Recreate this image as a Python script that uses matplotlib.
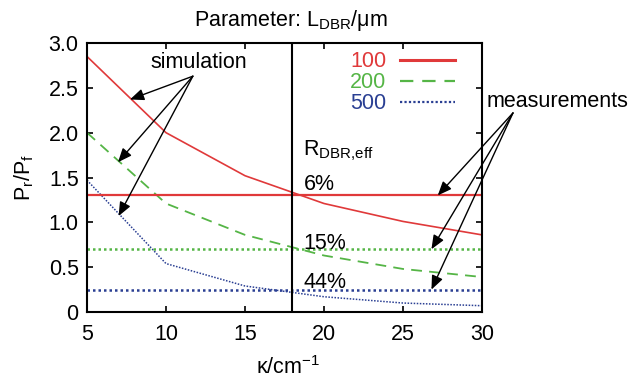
import matplotlib
matplotlib.use("Agg")
import matplotlib.pyplot as plt

plt.rcParams['font.family'] = ['Liberation Sans', 'DejaVu Sans']
plt.rcParams['mathtext.fontset'] = 'custom'
plt.rcParams['mathtext.rm'] = 'Liberation Sans'
plt.rcParams['mathtext.it'] = 'Liberation Sans'

kappa = [5, 10, 15, 20, 25, 30]
sim_100 = [2.85, 2.00, 1.52, 1.21, 1.01, 0.86]
sim_200 = [2.00, 1.21, 0.86, 0.63, 0.48, 0.39]
sim_500 = [1.47, 0.54, 0.29, 0.17, 0.10, 0.07]
meas_levels = [1.30, 0.70, 0.25]
meas_labels = ["6%", "15%", "44%"]
legend_labels = ["100", "200", "500"]
kappa_marker = 18

red = '#e0393a'
green = '#55b546'
blue = '#2a3f93'
FS = 15.5

fig = plt.figure(figsize=(6.29, 3.79), dpi=100)
ax = fig.add_axes([0.1383, 0.1768, 0.628, 0.7097])

l1, = ax.plot(kappa, sim_100, color=red, lw=1.2)
l2, = ax.plot(kappa, sim_200, color=green, lw=1.3, dashes=(6, 4))
l3, = ax.plot(kappa, sim_500, color=blue, lw=1.1, dashes=(1, 1))

ax.axhline(meas_levels[0], color=red, lw=1.6)
ax.axhline(meas_levels[1], color=green, lw=1.8, dashes=(1, 1.2))
ax.axhline(meas_levels[2], color=blue, lw=1.8, dashes=(1, 1.2))
ax.axvline(kappa_marker, color='black', lw=1.5)

ax.set_xlim(5, 30)
ax.set_ylim(0, 3.0)
ax.set_xticks([5, 10, 15, 20, 25, 30])
ax.set_yticks([0, 0.5, 1.0, 1.5, 2.0, 2.5, 3.0])
ax.set_yticklabels(['0', '0.5', '1.0', '1.5', '2.0', '2.5', '3.0'])
ax.tick_params(direction='in', top=True, right=True, labelsize=FS, length=4, width=1.2)
ax.tick_params(axis='x', pad=9)
ax.tick_params(axis='y', pad=6)
for s in ax.spines.values():
    s.set_linewidth(1.5)

ax.set_xlabel(r'$\mathregular{\kappa/cm^{-1}}$', fontsize=FS)
ax.xaxis.set_label_coords(0.51, -0.163)
ax.set_ylabel(r'$\mathregular{P_r/P_f}$', fontsize=FS)
ax.yaxis.set_label_coords(-0.13, 0.5)
fig.text(0.462, 0.945, r'Parameter: $\mathregular{L_{DBR}/\mu m}$', fontsize=FS, ha='center', va='center')

leg = ax.legend([l1, l2, l3], legend_labels, loc='upper right', bbox_to_anchor=(0.937, 0.978),
                frameon=False, fontsize=FS, markerfirst=False, handlelength=2.55,
                labelspacing=0.0, handletextpad=0.65, borderaxespad=0.0, borderpad=0.1)
for t, c in zip(leg.get_texts(), [red, green, blue]):
    t.set_color(c)
for ln, w in zip(leg.get_lines(), [2.2, 1.6, 1.6]):
    ln.set_linewidth(w)

ax.text(18.7, 1.80, r'$\mathregular{R_{DBR{,}eff}}$', fontsize=FS, ha='left', va='center')
baseline_pad = {"6%": 0.06, "15%": 0.005, "44%": 0.02}
for lvl, lab in zip(meas_levels, meas_labels):
    ax.text(18.7, lvl + baseline_pad[lab], lab, fontsize=FS, ha='left', va='baseline')

arrow_kw = dict(arrowstyle='-|>,head_length=0.6,head_width=0.25', color='black', lw=1.0,
                mutation_scale=14, shrinkA=0, shrinkB=0)
ax.text(12.1, 2.78, 'simulation', fontsize=FS, ha='center', va='center')
sim_src = (11.7, 2.63)
for tgt in [(7.72, 2.37), (6.96, 1.67), (7.0, 1.07)]:
    ax.annotate('', xy=tgt, xytext=sim_src, arrowprops=arrow_kw)

fig.text(0.887, 0.733, 'measurements', fontsize=FS, ha='center', va='center')
meas_src = (31.96, 2.22)
for tgt in [(27.2, 1.30), (26.8, 0.70), (26.8, 0.25)]:
    ax.annotate('', xy=tgt, xytext=meas_src, arrowprops=arrow_kw, annotation_clip=False)

fig.savefig('out.png', dpi=100)
